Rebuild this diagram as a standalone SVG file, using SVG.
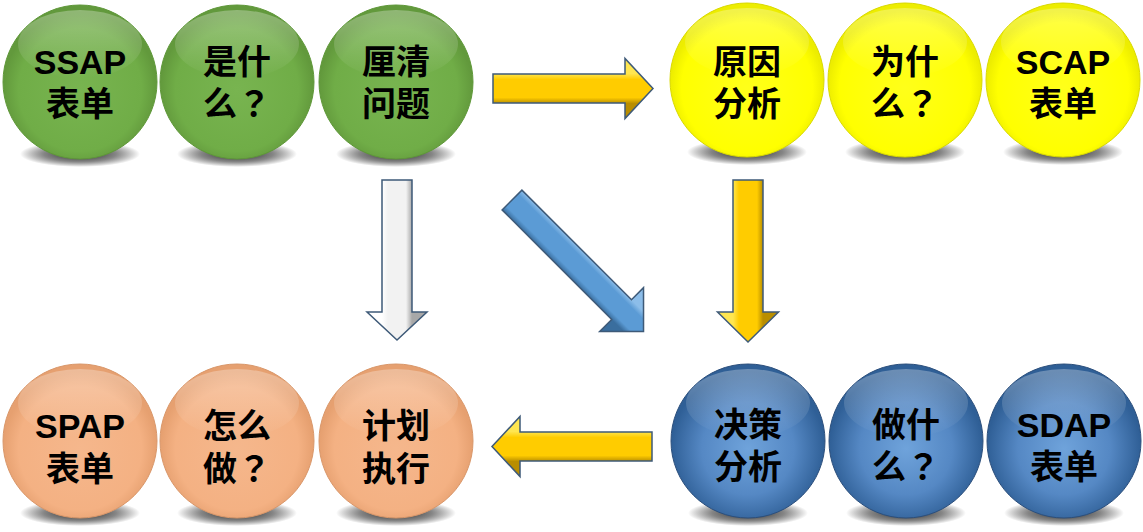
<svg xmlns="http://www.w3.org/2000/svg" width="1143" height="532" viewBox="0 0 1143 532">
<defs>
<radialGradient id="gGreen" cx="0.5" cy="0.55" r="0.5"><stop offset="0" stop-color="#78B450"/><stop offset="0.8" stop-color="#70AD47"/><stop offset="1" stop-color="#62993C"/></radialGradient>
<radialGradient id="gYellow" cx="0.5" cy="0.55" r="0.5"><stop offset="0" stop-color="#FFFF1A"/><stop offset="0.85" stop-color="#FFFF00"/><stop offset="1" stop-color="#EDED00"/></radialGradient>
<radialGradient id="gBlue" cx="0.5" cy="0.55" r="0.5"><stop offset="0" stop-color="#6FA3DB"/><stop offset="0.6" stop-color="#5588C4"/><stop offset="1" stop-color="#2F5F96"/></radialGradient>
<radialGradient id="gOrange" cx="0.5" cy="0.55" r="0.5"><stop offset="0" stop-color="#F5B78C"/><stop offset="0.8" stop-color="#F4B183"/><stop offset="1" stop-color="#E6A070"/></radialGradient>
<linearGradient id="gloss" x1="0" y1="0" x2="0" y2="1"><stop offset="0" stop-color="#FFFFFF" stop-opacity="0.3"/><stop offset="1" stop-color="#FFFFFF" stop-opacity="0"/></linearGradient>
<radialGradient id="shadow" cx="0.5" cy="0.5" r="0.5"><stop offset="0" stop-color="#000" stop-opacity="0.9"/><stop offset="0.6" stop-color="#222" stop-opacity="0.55"/><stop offset="1" stop-color="#000" stop-opacity="0"/></radialGradient>
<linearGradient id="aYellow" gradientUnits="userSpaceOnUse" x1="0" y1="-15" x2="0" y2="15"><stop offset="0" stop-color="#FFE650"/><stop offset="0.2" stop-color="#FFCC00"/><stop offset="0.8" stop-color="#FFCC00"/><stop offset="1" stop-color="#B98E00"/></linearGradient>
<linearGradient id="aWhite" gradientUnits="userSpaceOnUse" x1="0" y1="-15" x2="0" y2="15"><stop offset="0" stop-color="#FFFFFF"/><stop offset="0.2" stop-color="#F2F2F2"/><stop offset="0.8" stop-color="#F2F2F2"/><stop offset="1" stop-color="#A8A8A8"/></linearGradient>
<linearGradient id="aBlue" gradientUnits="userSpaceOnUse" x1="0" y1="-14" x2="0" y2="14"><stop offset="0" stop-color="#8CBDE9"/><stop offset="0.2" stop-color="#5B9BD5"/><stop offset="0.8" stop-color="#5B9BD5"/><stop offset="1" stop-color="#3A6E9E"/></linearGradient>
</defs>
<style>
.green{fill:url(#gGreen);stroke:#5F9839;stroke-width:1}
.yellow{fill:url(#gYellow);stroke:#D9D900;stroke-width:1}
.blue{fill:url(#gBlue);stroke:#2C4F7C;stroke-width:1}
.orange{fill:url(#gOrange);stroke:#D9976A;stroke-width:1}
.gl{fill:url(#gloss)}
.sh{fill:url(#shadow)}
.t{font-family:"Liberation Sans","Noto Sans CJK SC",sans-serif;font-weight:bold;font-size:34px;fill:#000;text-anchor:middle}
.q{font-family:"Noto Sans CJK TC","Noto Sans CJK JP",sans-serif}
.arr{stroke:#3E5A78;stroke-width:1.5;stroke-linejoin:miter}
</style>
<rect width="1143" height="532" fill="#FFFFFF"/>

<g id="connectors">
<path class="arr" fill="url(#aYellow)" transform="translate(493,88.5)" d="M0,-14.5 L132,-14.5 L132,-30 L160,0 L132,30 L132,14.5 L0,14.5 Z"/>
<path class="arr" fill="url(#aWhite)" stroke="#5A6F85" transform="translate(397,180) rotate(90) scale(1,-1)" d="M0,-15 L132,-15 L132,-30 L160,0 L132,30 L132,15 L0,15 Z"/>
<path class="arr" fill="url(#aBlue)" stroke="#3A5F86" transform="translate(512,200) rotate(45)" d="M0,-14 L155,-14 L155,-31 L186,0 L155,31 L155,14 L0,14 Z"/>
<path class="arr" fill="url(#aYellow)" transform="translate(748,180) rotate(90) scale(1,-1)" d="M0,-15 L132,-15 L132,-30.5 L162,0 L132,30.5 L132,15 L0,15 Z"/>
<path class="arr" fill="url(#aYellow)" transform="translate(652,446.5) scale(-1,1)" d="M0,-14.5 L132,-14.5 L132,-30 L160,0 L132,30 L132,14.5 L0,14.5 Z"/>
</g>

<g id="ssap-form">
<ellipse class="sh" cx="80" cy="154" rx="60" ry="13"/>
<circle class="green" cx="80" cy="82" r="77"/>
<ellipse class="gl" cx="80" cy="44" rx="62" ry="34"/>
<text class="t" x="80" y="74">SSAP</text>
<text class="t" x="80" y="116">表单</text>
</g>
<g id="what-is-it">
<ellipse class="sh" cx="237" cy="154" rx="60" ry="13"/>
<circle class="green" cx="237" cy="82" r="77"/>
<ellipse class="gl" cx="237" cy="44" rx="62" ry="34"/>
<text class="t" x="237" y="74">是什</text>
<text class="t" x="237" y="116">么<tspan class="q">？</tspan></text>
</g>
<g id="clarify-problem">
<ellipse class="sh" cx="396" cy="154" rx="60" ry="13"/>
<circle class="green" cx="396" cy="82" r="77"/>
<ellipse class="gl" cx="396" cy="44" rx="62" ry="34"/>
<text class="t" x="396" y="74">厘清</text>
<text class="t" x="396" y="116">问题</text>
</g>

<g id="cause-analysis">
<ellipse class="sh" cx="747" cy="152" rx="60" ry="13"/>
<circle class="yellow" cx="747" cy="80" r="77"/>
<ellipse class="gl" cx="747" cy="42" rx="62" ry="34"/>
<text class="t" x="747" y="74">原因</text>
<text class="t" x="747" y="116">分析</text>
</g>
<g id="why">
<ellipse class="sh" cx="905" cy="152" rx="60" ry="13"/>
<circle class="yellow" cx="905" cy="80" r="77"/>
<ellipse class="gl" cx="905" cy="42" rx="62" ry="34"/>
<text class="t" x="905" y="74">为什</text>
<text class="t" x="905" y="116">么<tspan class="q">？</tspan></text>
</g>
<g id="scap-form">
<ellipse class="sh" cx="1063" cy="152" rx="60" ry="13"/>
<circle class="yellow" cx="1063" cy="80" r="77"/>
<ellipse class="gl" cx="1063" cy="42" rx="62" ry="34"/>
<text class="t" x="1063" y="74">SCAP</text>
<text class="t" x="1063" y="116">表单</text>
</g>

<g id="decision-analysis">
<ellipse class="sh" cx="748" cy="513" rx="60" ry="13"/>
<circle class="blue" cx="748" cy="441" r="77"/>
<ellipse class="gl" cx="748" cy="403" rx="62" ry="34"/>
<text class="t" x="748" y="437">决策</text>
<text class="t" x="748" y="479">分析</text>
</g>
<g id="what-to-do">
<ellipse class="sh" cx="906" cy="513" rx="60" ry="13"/>
<circle class="blue" cx="906" cy="441" r="77"/>
<ellipse class="gl" cx="906" cy="403" rx="62" ry="34"/>
<text class="t" x="906" y="437">做什</text>
<text class="t" x="906" y="479">么<tspan class="q">？</tspan></text>
</g>
<g id="sdap-form">
<ellipse class="sh" cx="1064" cy="513" rx="60" ry="13"/>
<circle class="blue" cx="1064" cy="441" r="77"/>
<ellipse class="gl" cx="1064" cy="403" rx="62" ry="34"/>
<text class="t" x="1064" y="437">SDAP</text>
<text class="t" x="1064" y="479">表单</text>
</g>

<g id="spap-form">
<ellipse class="sh" cx="80" cy="513" rx="60" ry="13"/>
<circle class="orange" cx="80" cy="441" r="77"/>
<ellipse class="gl" cx="80" cy="403" rx="62" ry="34"/>
<text class="t" x="80" y="438">SPAP</text>
<text class="t" x="80" y="481">表单</text>
</g>
<g id="how-to-do">
<ellipse class="sh" cx="237" cy="513" rx="60" ry="13"/>
<circle class="orange" cx="237" cy="441" r="77"/>
<ellipse class="gl" cx="237" cy="403" rx="62" ry="34"/>
<text class="t" x="237" y="438">怎么</text>
<text class="t" x="237" y="481">做<tspan class="q">？</tspan></text>
</g>
<g id="plan-execute">
<ellipse class="sh" cx="396" cy="513" rx="60" ry="13"/>
<circle class="orange" cx="396" cy="441" r="77"/>
<ellipse class="gl" cx="396" cy="403" rx="62" ry="34"/>
<text class="t" x="396" y="438">计划</text>
<text class="t" x="396" y="481">执行</text>
</g>
</svg>
